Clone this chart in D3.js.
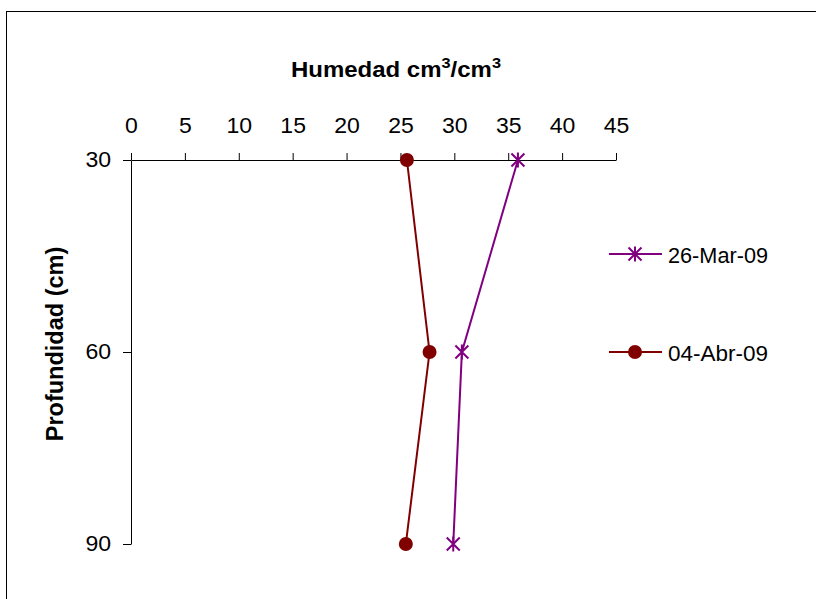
<!DOCTYPE html>
<html><head><meta charset="utf-8">
<script src="https://cdn.jsdelivr.net/npm/d3@7/dist/d3.min.js"></script>
<style>body{margin:0;background:#fff}svg{display:block}svg text{font-family:Arial,"Liberation Sans",sans-serif}</style>
</head><body><svg id="c" width="816" height="599"></svg>
<script>
const depths = [30, 60, 90];
const xTicks = [0, 5, 10, 15, 20, 25, 30, 35, 40, 45];
const seriesNames = ["26-Mar-09", "04-Abr-09"];
const mar26 = [35.9, 30.7, 29.9];
const abr04 = [25.6, 27.7, 25.5];
const colors = ["#800080", "#800000"];

const svg = d3.select("#c");
svg.append("rect").attr("x", 6.5).attr("y", 11.5).attr("width", 830).attr("height", 620)
  .attr("fill", "none").attr("stroke", "#000").attr("stroke-width", 1);

const x = d3.scaleLinear().domain([0, 45]).range([131, 616]);
const y = d3.scaleLinear().domain([30, 90]).range([160, 544]);

function widen(sel, f) {
  sel.each(function () {
    const w = this.getComputedTextLength();
    d3.select(this).attr("textLength", w * f).attr("lengthAdjust", "spacingAndGlyphs");
  });
}

const xAxis = svg.append("g").attr("transform", "translate(0,160)")
  .call(d3.axisTop(x).tickValues(xTicks).tickSize(7).tickPadding(20).tickSizeOuter(0));
xAxis.select(".domain").attr("stroke", "#000");
xAxis.selectAll("line").attr("stroke", "#000");
xAxis.selectAll("text").attr("font-size", 21.5).attr("fill", "#000").attr("font-family", "Arial, Liberation Sans, sans-serif");
widen(xAxis.selectAll("text"), 1.07);

const yAxis = svg.append("g").attr("transform", "translate(131,0)")
  .call(d3.axisLeft(y).tickValues(depths).tickSize(8).tickPadding(12).tickSizeOuter(0));
yAxis.select(".domain").attr("stroke", "#000");
yAxis.selectAll("line").attr("stroke", "#000");
yAxis.selectAll("text").attr("font-size", 21.5).attr("fill", "#000").attr("font-family", "Arial, Liberation Sans, sans-serif");
widen(yAxis.selectAll("text"), 1.07);

const title = svg.append("text").attr("x", 396).attr("y", 77).attr("text-anchor", "middle")
  .attr("font-size", 22).attr("font-weight", "bold")
  .html('Humedad cm<tspan dy="-9" font-size="15">3</tspan><tspan dy="9">/cm</tspan><tspan dy="-9" font-size="15">3</tspan>');
title.attr("textLength", 210).attr("lengthAdjust", "spacingAndGlyphs");

svg.append("text").attr("transform", "translate(63,344) rotate(-90)").attr("text-anchor", "middle")
  .attr("font-size", 23.5).attr("font-weight", "bold").text("Profundidad (cm)");

const series = [mar26, abr04];
const line = d3.line().x(d => x(d[0])).y(d => y(d[1]));

function star(g, cx, cy, col) {
  const s = 6.5;
  g.append("path").attr("d", `M${cx-s},${cy-s}L${cx+s},${cy+s}M${cx-s},${cy+s}L${cx+s},${cy-s}M${cx},${cy-s-1}L${cx},${cy+s+1}`)
    .attr("stroke", col).attr("stroke-width", 2).attr("fill", "none");
}
function dot(g, cx, cy, col) {
  g.append("circle").attr("cx", cx).attr("cy", cy).attr("r", 7).attr("fill", col);
}

series.forEach((vals, i) => {
  const pts = vals.map((v, j) => [v, depths[j]]);
  const g = svg.append("g");
  g.append("path").attr("d", line(pts)).attr("fill", "none").attr("stroke", colors[i]).attr("stroke-width", 2);
  pts.forEach(p => (i === 0 ? star : dot)(g, x(p[0]), y(p[1]), colors[i]));
});

const legY = [254, 352];
seriesNames.forEach((n, i) => {
  const g = svg.append("g");
  g.append("line").attr("x1", 609).attr("x2", 662).attr("y1", legY[i]).attr("y2", legY[i])
    .attr("stroke", colors[i]).attr("stroke-width", 2);
  (i === 0 ? star : dot)(g, 635, legY[i], colors[i]);
  g.append("text").attr("x", 668).attr("y", legY[i] + 8.5).attr("font-size", 21.5).text(n)
    .attr("textLength", 100).attr("lengthAdjust", "spacingAndGlyphs");
});
</script></body></html>
